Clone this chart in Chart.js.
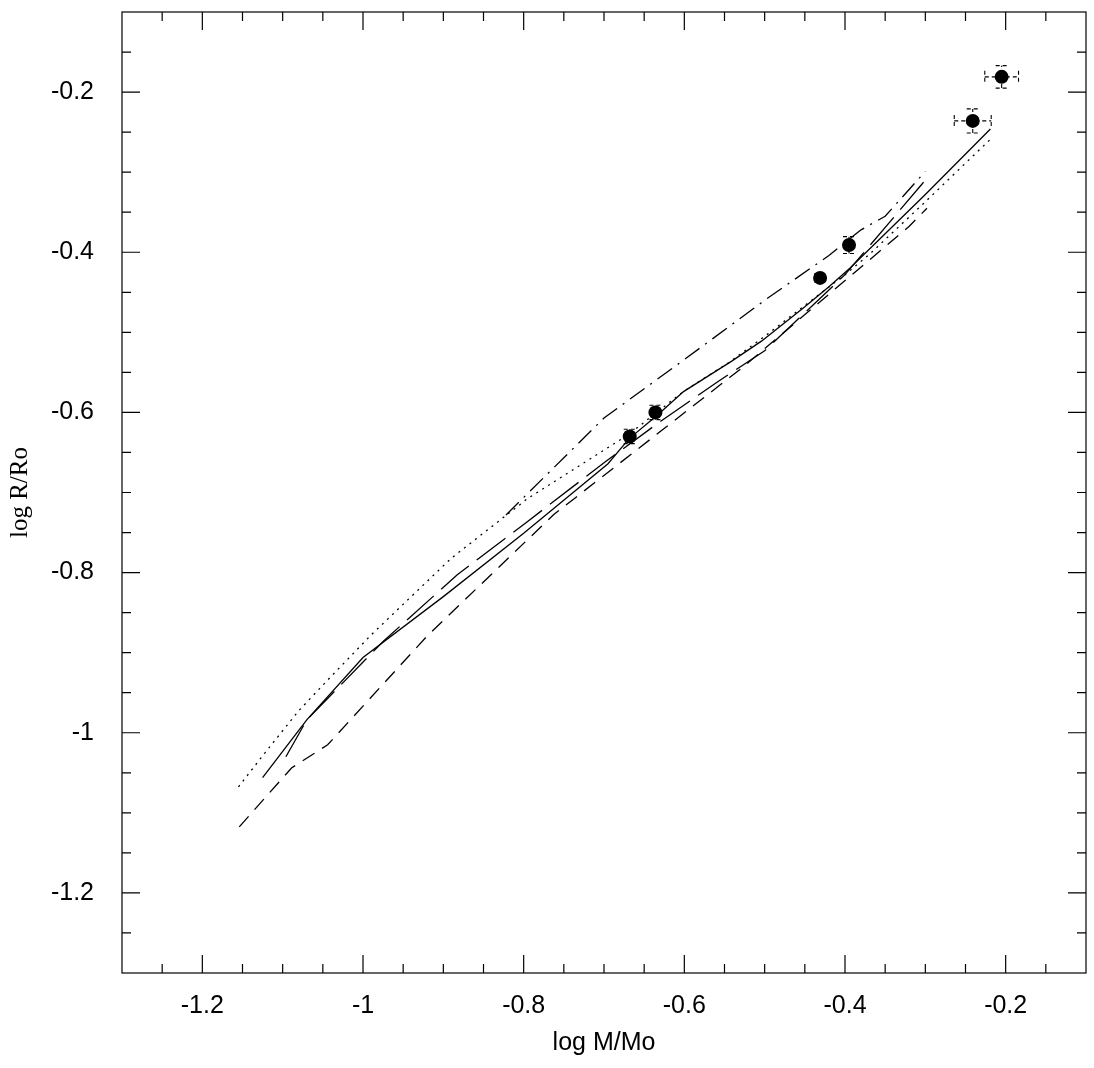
<!DOCTYPE html>
<html>
<head>
<meta charset="utf-8">
<script src="https://cdn.jsdelivr.net/npm/chart.js@4.4.1/dist/chart.umd.min.js"></script>
<style>
  html, body { margin: 0; padding: 0; background: #fff; }
  #wrap { width: 1094px; height: 1068px; }
</style>
</head>
<body>
<div id="wrap"><canvas id="mrChart" width="1094" height="1068"></canvas></div>
<script>
// tick labels on both axes
const majorTicks = [-1.2, -1, -0.8, -0.6, -0.4, -0.2];

// model curves (log M, log R)
const solidX = [-1.125, -1.07, -1.0, -0.9, -0.8, -0.695, -0.669, -0.633, -0.601, -0.541, -0.504, -0.45, -0.42, -0.394, -0.3, -0.219];
const solidY = [-1.056, -0.984, -0.906, -0.83, -0.751, -0.664, -0.633, -0.603, -0.574, -0.536, -0.511, -0.468, -0.443, -0.42, -0.328, -0.246];

const dottedX = [-1.155, -1.12, -1.08, -1.04, -0.99, -0.89, -0.795, -0.67, -0.6, -0.545, -0.5, -0.4, -0.37, -0.3, -0.216];
const dottedY = [-1.0675, -1.0225, -0.9725, -0.93, -0.878, -0.782, -0.7075, -0.628, -0.573, -0.538, -0.505, -0.428, -0.403, -0.337, -0.256];

const shortDashX = [-1.154, -1.089, -1.044, -0.92, -0.7625, -0.529, -0.32, -0.298];
const shortDashY = [-1.1175, -1.044, -1.015, -0.879, -0.7275, -0.545, -0.3675, -0.345];

const longDashX = [-1.096, -1.07, -0.975, -0.883, -0.7975, -0.6975, -0.635, -0.5575, -0.5, -0.4, -0.3];
const longDashY = [-1.03, -0.984, -0.886, -0.803, -0.738, -0.661, -0.615, -0.561, -0.523, -0.428, -0.31];

const dashDotX = [-0.822, -0.7, -0.6, -0.5, -0.42, -0.38, -0.35, -0.3];
const dashDotY = [-0.728, -0.607, -0.534, -0.46, -0.404, -0.372, -0.355, -0.299];

// observed stars with errors
const starX = [-0.668, -0.636, -0.431, -0.395, -0.241, -0.205];
const starY = [-0.630, -0.600, -0.432, -0.391, -0.236, -0.181];
const starErrX = [0, 0, 0, 0, 0.023, 0.021];
const starErrY = [0.009, 0.009, 0.005, 0.0105, 0.015, 0.014];

const fmt = v => String(Math.round(v * 10) / 10);

function curve(xs, ys, dash) {
    return {
        data: xs.map((x, i) => ({x: x, y: ys[i]})),
        showLine: true,
        borderColor: '#000',
        borderWidth: 1.3,
        borderDash: dash,
        pointRadius: 0,
        pointHoverRadius: 0,
        fill: false,
        tension: 0
    };
}

// frame round the plot plus inward ticks on every side
const frameTicks = {
    id: 'frameTicks',
    afterDraw(chart) {
        const {ctx, chartArea: a, scales} = chart;
        const xs = scales.x, ys = scales.y;
        ctx.save();
        ctx.strokeStyle = '#000';
        ctx.lineWidth = 1.2;
        ctx.setLineDash([]);
        ctx.strokeRect(a.left, a.top, a.right - a.left, a.bottom - a.top);
        ctx.beginPath();
        // ticks every 0.05, long ones every 0.2
        for (let k = -25; k <= -3; k++) {
            const len = (k % 4 === 0) ? 18 : 9;
            const px = xs.getPixelForValue(k * 0.05);
            ctx.moveTo(px, a.bottom); ctx.lineTo(px, a.bottom - len);
            ctx.moveTo(px, a.top); ctx.lineTo(px, a.top + len);
            const py = ys.getPixelForValue(k * 0.05);
            ctx.moveTo(a.left, py); ctx.lineTo(a.left + len, py);
            ctx.moveTo(a.right, py); ctx.lineTo(a.right - len, py);
        }
        ctx.stroke();
        ctx.restore();
    }
};

// dashed error bars, drawn under the markers
const errorBars = {
    id: 'errorBars',
    beforeDatasetsDraw(chart) {
        const {ctx, scales} = chart;
        const xs = scales.x, ys = scales.y;
        const cap = 6;
        ctx.save();
        ctx.strokeStyle = '#000';
        ctx.lineWidth = 1.1;
        ctx.setLineDash([4, 3]);
        ctx.beginPath();
        for (let i = 0; i < starX.length; i++) {
            const cx = xs.getPixelForValue(starX[i]);
            const cy = ys.getPixelForValue(starY[i]);
            if (starErrX[i] > 0) {
                const x0 = xs.getPixelForValue(starX[i] - starErrX[i]);
                const x1 = xs.getPixelForValue(starX[i] + starErrX[i]);
                ctx.moveTo(x0, cy); ctx.lineTo(x1, cy);
                ctx.moveTo(x0, cy - cap); ctx.lineTo(x0, cy + cap);
                ctx.moveTo(x1, cy - cap); ctx.lineTo(x1, cy + cap);
            }
            if (starErrY[i] > 0) {
                const y0 = ys.getPixelForValue(starY[i] - starErrY[i]);
                const y1 = ys.getPixelForValue(starY[i] + starErrY[i]);
                ctx.moveTo(cx, y0); ctx.lineTo(cx, y1);
                ctx.moveTo(cx - cap, y0); ctx.lineTo(cx + cap, y0);
                ctx.moveTo(cx - cap, y1); ctx.lineTo(cx + cap, y1);
            }
        }
        ctx.stroke();
        ctx.restore();
    }
};

const ctx = document.getElementById('mrChart').getContext('2d');
new Chart(ctx, {
    type: 'scatter',
    data: {
        datasets: [
            curve(solidX, solidY, []),
            curve(dottedX, dottedY, [2, 5]),
            curve(shortDashX, shortDashY, [14, 9]),
            curve(longDashX, longDashY, [36, 10]),
            curve(dashDotX, dashDotY, [18, 7, 2, 7]),
            {
                data: starX.map((x, i) => ({x: x, y: starY[i]})),
                showLine: false,
                pointRadius: 7,
                pointHoverRadius: 7,
                pointBackgroundColor: '#000',
                pointBorderColor: '#000',
                pointBorderWidth: 0
            }
        ]
    },
    options: {
        responsive: false,
        animation: false,
        events: [],
        layout: {padding: {top: 12, right: 8, left: 0, bottom: 0}},
        plugins: {legend: {display: false}, tooltip: {enabled: false}},
        scales: {
            x: {
                type: 'linear',
                min: -1.3,
                max: -0.1,
                afterBuildTicks: s => { s.ticks = majorTicks.map(v => ({value: v})); },
                afterFit: s => { s.height = 95; s.paddingLeft = 0; s.paddingRight = 0; },
                grid: {display: false, drawTicks: false},
                border: {display: false},
                ticks: {
                    color: '#000',
                    font: {family: 'Liberation Sans', size: 25},
                    padding: 18,
                    maxRotation: 0,
                    autoSkip: false,
                    callback: v => fmt(v)
                },
                title: {
                    display: true,
                    text: 'log M/Mo',
                    color: '#000',
                    font: {family: 'Liberation Sans', size: 25},
                    padding: {top: 0, bottom: 10}
                }
            },
            y: {
                type: 'linear',
                min: -1.3,
                max: -0.1,
                afterBuildTicks: s => { s.ticks = majorTicks.map(v => ({value: v})); },
                afterFit: s => { s.width = 122; s.paddingTop = 0; s.paddingBottom = 0; },
                grid: {display: false, drawTicks: false},
                border: {display: false},
                ticks: {
                    color: '#000',
                    font: {family: 'Liberation Sans', size: 25},
                    padding: 28,
                    autoSkip: false,
                    callback: v => fmt(v)
                },
                title: {
                    display: true,
                    text: 'log R/Ro',
                    color: '#000',
                    font: {family: 'Liberation Serif', size: 25},
                    padding: {top: 5, bottom: 0}
                }
            }
        }
    },
    plugins: [errorBars, frameTicks]
});
</script>
</body>
</html>
